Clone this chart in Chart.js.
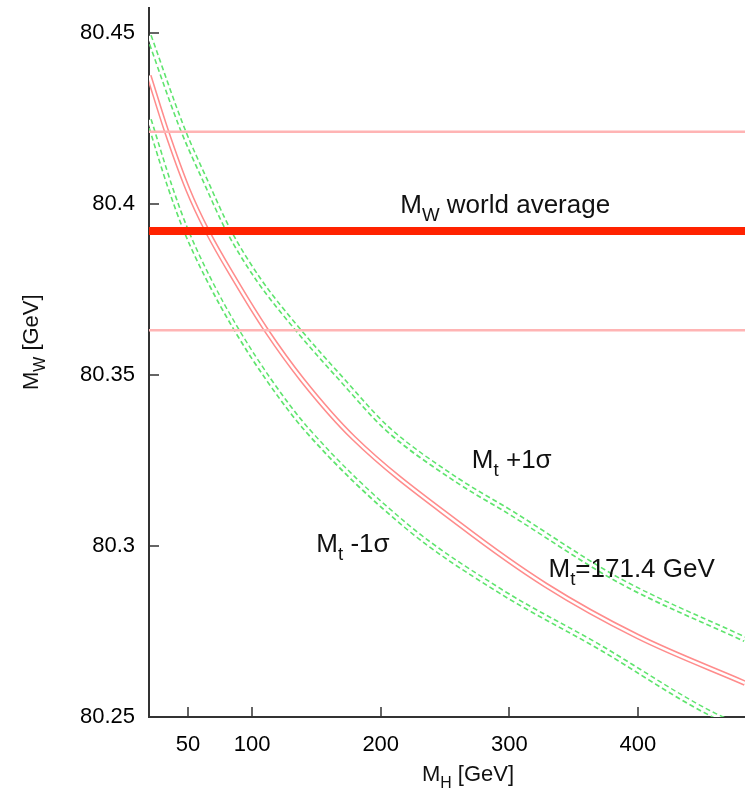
<!DOCTYPE html>
<html lang="en">
<head>
<meta charset="UTF-8">
<title>M_W versus M_H</title>
<style>
    html, body { margin: 0; padding: 0; background: #fff; }
    #wrap { width: 745px; height: 791px; }
</style>
</head>
<body>
<div id="wrap"><canvas id="chart" width="745" height="791"></canvas></div>

<script src="https://cdn.jsdelivr.net/npm/chart.js"></script>
<script>
    // axis ranges and ticks
    const xMin = 19.7, xMax = 483.4;
    const yMin = 80.25, yMax = 80.4572;
    const xTicks = [50, 100, 200, 300, 400];
    const yTicks = [80.25, 80.3, 80.35, 80.4, 80.45];
    const yTickLabels = ['80.25', '80.3', '80.35', '80.4', '80.45'];

    // M_W world average and its error band
    const mwAvg = 80.392;
    const mwErr = 0.029;

    // prediction for Mt = 171.4 GeV
    const mhCentral = [19.7, 33, 50, 65, 86.5, 111, 139, 179, 262, 328, 400, 483.4];
    const mwCentral = [80.4374, 80.4216, 80.4041, 80.392, 80.3778, 80.363, 80.3485, 80.3315, 80.3061, 80.2886, 80.2735, 80.2599];

    // Mt + 1 sigma
    const mhPlus = [19.7, 46, 63.2, 81.8, 105, 136, 170, 205, 259, 300, 386, 483.4];
    const mwPlus = [80.449, 80.4216, 80.407, 80.392, 80.3778, 80.363, 80.3485, 80.3343, 80.3193, 80.31, 80.2898, 80.2727];

    // Mt - 1 sigma
    const mhMinus = [19.7, 36, 48.7, 66.3, 88, 113, 142.7, 220, 293, 370, 460, 483.4];
    const mwMinus = [80.4245, 80.405, 80.392, 80.3778, 80.363, 80.3485, 80.3339, 80.3058, 80.2868, 80.2705, 80.2504, 80.247];

    const FONT = '"Liberation Sans", Arial, Helvetica, sans-serif';
    const PINK = 'rgb(255,140,140)';
    const GREEN = 'rgb(95,228,110)';

    const pts = (xs, ys) => xs.map((v, i) => ({ x: v, y: ys[i] }));
    const hLine = v => [{ x: xMin, y: v }, { x: xMax, y: v }];

    // text labels placed in data coordinates
    const notes = [
        { mh: 215.2, mw: 80.3973, parts: [['M'], ['W', true], [' world average']] },
        { mh: 270.9, mw: 80.3228, parts: [['M'], ['t', true], [' +1\u03c3']] },
        { mh: 149.9, mw: 80.2982, parts: [['M'], ['t', true], [' -1\u03c3']] },
        { mh: 330.5, mw: 80.2909, parts: [['M'], ['t', true], ['=171.4 GeV']] }
    ];

    function richText(ctx, x, y, parts, size) {
        let cx = x;
        parts.forEach(([t, sub]) => {
            const fs = sub ? size * 0.72 : size;
            ctx.font = fs + 'px ' + FONT;
            ctx.fillText(t, cx, sub ? y + size * 0.3 : y);
            cx += ctx.measureText(t).width;
        });
    }

    const overlay = {
        id: 'overlay',
        afterDraw(chart) {
            const { ctx, chartArea } = chart;
            const x = chart.scales.x, y = chart.scales.y;
            ctx.save();

            // inward tick marks
            ctx.strokeStyle = '#333';
            ctx.lineWidth = 1.5;
            ctx.beginPath();
            xTicks.forEach(v => {
                const px = Math.round(x.getPixelForValue(v));
                ctx.moveTo(px, chartArea.bottom);
                ctx.lineTo(px, chartArea.bottom - 10);
            });
            yTicks.forEach(v => {
                const py = Math.round(y.getPixelForValue(v));
                ctx.moveTo(chartArea.left, py);
                ctx.lineTo(chartArea.left + 10, py);
            });
            ctx.stroke();

            ctx.fillStyle = '#111';
            ctx.textAlign = 'left';
            ctx.textBaseline = 'alphabetic';
            notes.forEach(n => {
                richText(ctx, x.getPixelForValue(n.mh), y.getPixelForValue(n.mw), n.parts, 26);
            });

            // axis titles
            richText(ctx, 422, 781, [['M'], ['H', true], [' [GeV]']], 22);
            ctx.translate(38, 390);
            ctx.rotate(-Math.PI / 2);
            richText(ctx, 0, 0, [['M'], ['W', true], [' [GeV]']], 22);
            ctx.restore();
        }
    };

    const common = { showLine: true, pointRadius: 0, clip: 0, cubicInterpolationMode: 'monotone' };

    const datasets = [
        { ...common, data: hLine(mwAvg), borderColor: '#ff2200', borderWidth: 8, order: 0 },
        { ...common, data: hLine(mwAvg + mwErr), borderColor: 'rgb(255,180,180)', borderWidth: 2.5, order: 1 },
        { ...common, data: hLine(mwAvg - mwErr), borderColor: 'rgb(255,180,180)', borderWidth: 2.5, order: 1 },
        // white cores give the double-line look
        { ...common, data: pts(mhCentral, mwCentral), borderColor: '#fff', borderWidth: 2.4, order: 2 },
        { ...common, data: pts(mhPlus, mwPlus), borderColor: '#fff', borderWidth: 2.8, order: 2 },
        { ...common, data: pts(mhMinus, mwMinus), borderColor: '#fff', borderWidth: 2.8, order: 2 },
        { ...common, data: pts(mhCentral, mwCentral), borderColor: PINK, borderWidth: 5.5, order: 3 },
        { ...common, data: pts(mhPlus, mwPlus), borderColor: GREEN, borderWidth: 6, borderDash: [5, 3], order: 3 },
        { ...common, data: pts(mhMinus, mwMinus), borderColor: GREEN, borderWidth: 6, borderDash: [5, 3], order: 3 }
    ];

    new Chart(document.getElementById('chart'), {
        type: 'scatter',
        data: { datasets: datasets },
        options: {
            responsive: false,
            animation: false,
            layout: { padding: { top: 8, right: 0, left: 0, bottom: 0 } },
            plugins: { legend: { display: false }, tooltip: { enabled: false } },
            scales: {
                x: {
                    type: 'linear', min: xMin, max: xMax,
                    grid: { display: false, drawTicks: false },
                    border: { display: true, color: '#333', width: 2 },
                    afterBuildTicks: s => { s.ticks = xTicks.map(v => ({ value: v })); },
                    afterFit: s => { s.height = 74; s.paddingLeft = 0; s.paddingRight = 0; },
                    ticks: { color: '#000', font: { family: FONT, size: 22 }, padding: 15, maxRotation: 0, autoSkip: false }
                },
                y: {
                    type: 'linear', min: yMin, max: yMax,
                    grid: { display: false, drawTicks: false },
                    border: { display: true, color: '#333', width: 2 },
                    afterBuildTicks: s => { s.ticks = yTicks.map(v => ({ value: v })); },
                    afterFit: s => { s.width = 149; s.paddingTop = 0; s.paddingBottom = 0; },
                    ticks: {
                        color: '#000', font: { family: FONT, size: 22 }, padding: 14, autoSkip: false,
                        callback: (v, i) => yTickLabels[i]
                    }
                }
            }
        },
        plugins: [overlay]
    });
</script>
</body>
</html>
